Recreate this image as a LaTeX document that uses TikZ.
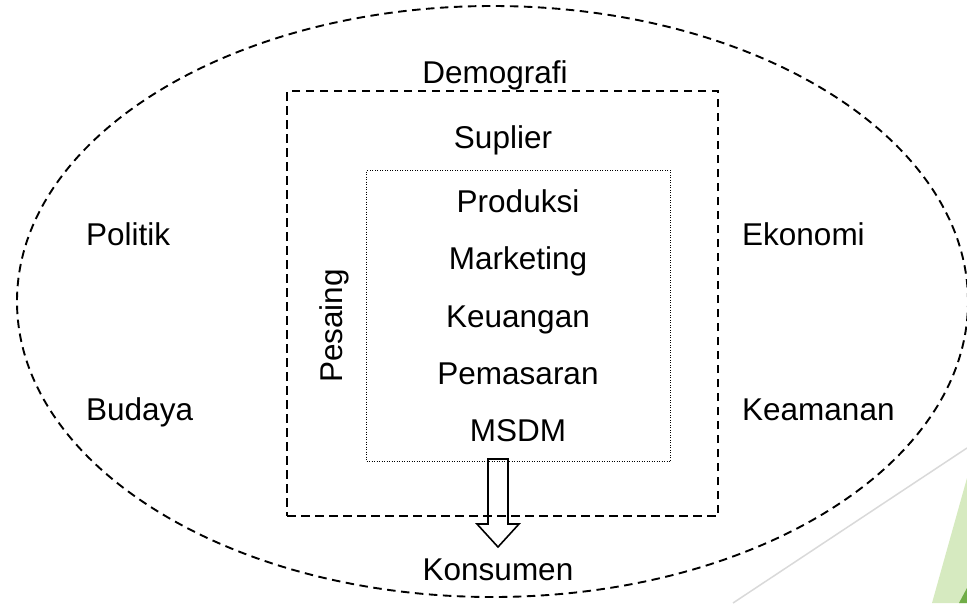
\documentclass[tikz,border=0pt]{standalone}
\usepackage{fontspec}
\setmainfont{Liberation Sans}
\usetikzlibrary{shapes.geometric}
\definecolor{lgray}{RGB}{217,217,217}
\definecolor{lgreen}{RGB}{214,234,192}
\definecolor{dgreen}{RGB}{112,173,71}
\begin{document}
\begin{tikzpicture}[x=1pt,y=-1pt,
  lbl/.style={font=\fontsize{31.5}{36}\selectfont, inner sep=0pt},
  dsh/.style={draw, line width=1.9pt, dash pattern=on 8.5pt off 5.5pt},
  dtt/.style={draw, line width=1pt, dash pattern=on 1pt off 1.5pt}]
\useasboundingbox (0,0) rectangle (967,603);
% background decoration
\fill[lgreen] (932,603) -- (967,478) -- (967,603) -- cycle;
\fill[dgreen] (959,603) -- (967,588) -- (967,603) -- cycle;
\draw[lgray, line width=1.5pt] (733,603) -- (967,448);
% shapes
\node[ellipse, dsh, minimum width=951pt, minimum height=591pt, inner sep=0pt] (env) at (492.5,301.5) {};
\node[rectangle, dsh, minimum width=431pt, minimum height=425pt, inner sep=0pt] (ind) at (502.5,303.5) {};
\node[rectangle, dtt, minimum width=304pt, minimum height=291pt, inner sep=0pt] (org) at (518.5,316) {};
% texts
\node[lbl, anchor=base] (demo) at (495,83) {Demografi};
\node[lbl, anchor=base] (sup) at (503,148) {Suplier};
\node[lbl, anchor=base] (prod) at (518,212) {Produksi};
\node[lbl, anchor=base] (mkt) at (518,269) {Marketing};
\node[lbl, anchor=base] (keu) at (518,327) {Keuangan};
\node[lbl, anchor=base] (pem) at (518,384) {Pemasaran};
\node[lbl, anchor=base] (msdm) at (518,441) {MSDM};
\node[lbl, anchor=base west] (pol) at (86,245) {Politik};
\node[lbl, anchor=base west] (bud) at (86,420) {Budaya};
\node[lbl, anchor=base west] (eko) at (742,245) {Ekonomi};
\node[lbl, anchor=base west] (kea) at (742,420) {Keamanan};
\node[lbl, anchor=base] (kon) at (498,580) {Konsumen};
\node[lbl, anchor=base, rotate=90] (pes) at (342,326) {Pesaing};
% hollow arrow from org down to konsumen
\coordinate (a1) at (488,459);
\coordinate (a2) at (508,459);
\coordinate (a3) at (508,524);
\coordinate (a4) at (519,524);
\coordinate (tip) at (498,547);
\coordinate (a6) at (477,524);
\coordinate (a7) at (488,524);
\draw[line width=1.6pt, line join=miter] (a1) -- (a2) -- (a3) -- (a4) -- (tip) -- (a6) -- (a7) -- cycle;
\end{tikzpicture}
\end{document}
